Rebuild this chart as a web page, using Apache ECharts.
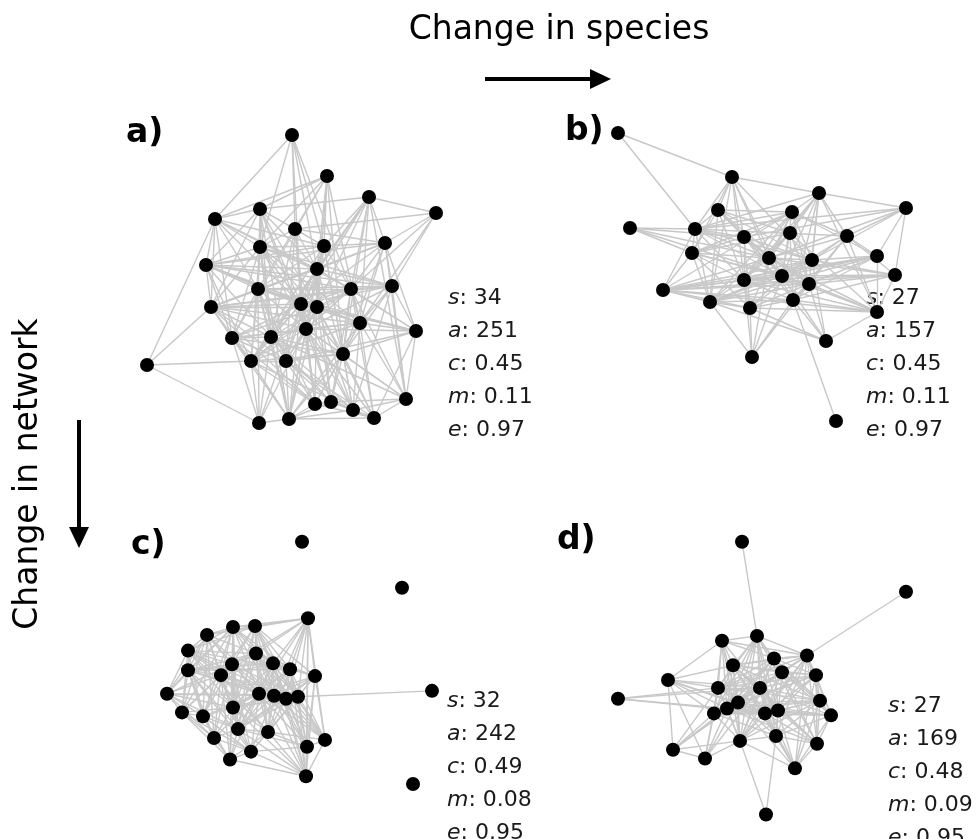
<!DOCTYPE html>
<html>
<head>
    <meta charset="utf-8">
    <title></title>
    <script src="https://cdn.jsdelivr.net/npm/echarts@6/dist/echarts.min.js"></script>
</head>
<body style="margin:0">
<div id="container" style="width:978px;height:839px"></div>
<script type="text/javascript">
    // node layout positions (panel units)
    var nodesA = [[162,15],[197,56],[239,77],[306,93],[130,89],[85,99],[165,109],[255,123],[194,126],[130,127],
        [76,145],[187,149],[262,166],[128,169],[221,169],[81,187],[171,184],[187,187],[230,203],[286,211],
        [176,209],[102,218],[141,217],[213,234],[17,245],[121,241],[156,241],[276,279],[185,284],[201,282],
        [223,290],[244,298],[159,299],[129,303]];
    var nodesB = [[18,13],[132,57],[219,73],[306,88],[118,90],[192,92],[30,108],[95,109],[190,113],[144,117],
        [247,116],[92,133],[169,138],[212,140],[277,136],[182,156],[295,155],[144,160],[209,164],[63,170],
        [110,182],[193,180],[150,188],[277,192],[226,221],[152,237],[236,301]];
    var nodesC = [[152,17],[252,64],[158,95],[83,104],[105,103],[57,112],[38,128],[106,131],[82,142],[123,141],
        [140,147],[38,148],[71,153],[165,154],[17,172],[109,172],[124,174],[136,177],[148,175],[282,169],
        [83,186],[32,191],[53,195],[88,208],[118,211],[64,217],[175,219],[157,226],[101,231],[80,239],
        [156,256],[263,264]];
    var nodesD = [[142,17],[306,68],[157,113],[122,118],[207,133],[174,136],[133,143],[182,150],[216,153],[68,158],
        [118,166],[160,166],[18,177],[220,179],[138,181],[127,187],[114,192],[165,192],[178,189],[231,194],
        [176,215],[140,220],[217,223],[73,229],[105,238],[195,248],[166,295]];

    // neighbours of each node (1-based, higher ids only)
    var adjA = [[6,7,9,10,12,15,17],[5,6,9,10,12,14,18,19,22,24],[4,5,8,9,12,15,17,19,21,23,24,26,28],[7,8,13,19,21],
        [6,7,9,10,11,12,14,16,17,18,21,23,27],[9,10,11,12,14,15,16,17,22,25],[8,9,10,12,17,21,23,27,29],
        [9,11,12,13,15,16,17,19,20,24,28],[10,11,12,14,15,17,18,21,24,26,31],[11,12,13,14,16,17,18,19,21,22,23,26,33],
        [12,13,14,15,16,17,18,19,22,23,26],[13,14,15,16,18,20,21,23,24,27,29,30,33],[14,15,16,17,19,20,21,24,28,31],
        [15,16,17,18,20,21,22,23,26,27,29,33,34],[16,17,18,19,20,21,23,24,26,28,30,32],[17,18,19,21,22,23,25,26,27,29],
        [19,20,21,22,23,24,26,27,29,30,31,33,34],[19,20,21,22,24,26,27,30,31,32,33],[20,21,22,24,26,28,29,31,32,33],
        [21,24,27,28,32],[22,23,24,26,27,28,29,30,31,32,33,34],[23,24,26,27,29,33,34],[24,26,27,28,30,31,33,34],
        [26,27,28,29,30,31,32,33],[26,34],[27,29,31,33,34],[29,30,31,32,33],[30,31,32],[30,32,33],[31,32,33],
        [32,33],[33],[34],[]];
    var adjB = [[2,8],[3,5,8,10,12,13,14,16,18,21],[4,6,8,9,11,13,14,16,18,19,22,24],[8,10,11,13,14,15,17],
        [6,8,9,10,12,13,14,16,18,19,21],[8,10,11,12,13,14,15,16,18,19,20,21,23],[8,10,12,13,16],
        [10,11,12,13,14,16,18,20,21],[12,13,16,18,19,21,22,24],[12,13,14,16,18,19,22,23],[13,14,15,16,17,19,22,24],
        [13,16,18,19,20,21,23],[14,16,17,18,19,20,22,24,26],[15,16,17,18,20,21,23,25],[16,18,19,20,21,22,24],
        [17,18,20,21,23,24,25,26],[18,19,20,22,24],[19,20,21,22,23,24,26],[20,21,22,23,24,25,26],[21,22,23,24],
        [22,23,25,26],[23,24,25,26,27],[24,25,26],[25],[],[],[]];
    var adjC = [[],[],[4,5,6,8,9,10,11,14,16,17,18,19,27,28,31],[5,6,7,8,9,10,11,12,13,15,16,17,21,22,23,24],
        [6,7,8,9,10,11,13,14,16,17,18,19,21,24,25],[7,8,9,12,13,15,16,17,21,22,23,24,26],
        [8,9,11,12,13,15,16,18,21,22,23,25],[9,10,11,12,13,14,16,17,18,19,21,24,25,27,28],
        [10,12,13,15,16,17,19,21,22,23,24,26,29,30],[11,12,13,14,16,17,18,19,21,24,25,27,28,31],
        [12,14,16,18,19,21,24,25,27,28,31],[13,15,16,17,21,22,23,24,26,29],[15,16,18,19,21,22,23,24,25,26,30],
        [16,17,18,19,24,25,27,28,31],[16,17,21,22,23,24,26],[17,18,19,21,23,24,25,26,27,28,29,30,31],
        [18,19,21,24,25,27,28,29,31],[19,21,24,25,27,28,31],[20,21,24,25,27,28,29,31],[],
        [22,23,24,25,26,29,30,31],[23,26,29,30],[24,26,29,30],[25,26,28,29,30,31],[27,28,29,30,31],[29,30],
        [28,31],[29,31],[30,31],[31],[],[]];
    var adjD = [[3],[5],[4,5,6,7,8,11,12,15,16,17,18,19,21,22,23],[5,6,7,10,11,12,15,16,17,22],
        [6,7,8,9,11,12,14,15,16,17,18,19,20,21,22,23,26],[7,8,9,11,12,14,15,16,17,19,20,22],
        [8,9,10,11,12,14,15,16,17,18,19,21,22,23,26],[9,11,12,14,15,16,17,18,20,21,22,23],
        [11,12,14,15,17,18,19,20,23,26],[11,12,15,16,17,18,24,25],[12,13,14,15,16,17,18,19,22,24,25],
        [13,14,15,16,17,18,19,20,21,22,23,24,25,26],[16,18],[15,16,17,18,19,20,21,22,23,26],
        [16,17,18,19,20,21,22,24,25,26],[17,18,19,20,22,23,24,25],[18,19,20,21,22,24,25],[19,20,21,22,23,26],
        [20,21,22,23,26],[21,23,26],[22,23,26,27],[24,25,26,27],[26],[25],[],[],[]];

    var statLetters = ['s', 'a', 'c', 'm', 'e'];
    var statsA = ['34', '251', '0.45', '0.11', '0.97'];
    var statsB = ['27', '157', '0.45', '0.11', '0.97'];
    var statsC = ['32', '242', '0.49', '0.08', '0.95'];
    var statsD = ['27', '169', '0.48', '0.09', '0.95'];
    var panelNames = ['a)', 'b)', 'c)', 'd)'];

    var panels = [
        {nodes: nodesA, adj: adjA, stats: statsA, left: 130, top: 120, tx: 448, ty: 298, lx: 126, ly: 133},
        {nodes: nodesB, adj: adjB, stats: statsB, left: 600, top: 120, tx: 866, ty: 298, lx: 565, ly: 131},
        {nodes: nodesC, adj: adjC, stats: statsC, left: 150, top: 525, tx: 447, ty: 701, lx: 131, ly: 545},
        {nodes: nodesD, adj: adjD, stats: statsD, left: 600, top: 525, tx: 888, ty: 706, lx: 557, ly: 540}
    ];

    var font = 'DejaVu Sans';
    var grids = [], xAxes = [], yAxes = [], series = [], graphics = [];

    panels.forEach(function (p, k) {
        grids.push({left: p.left, top: p.top, width: 320, height: 320});
        xAxes.push({gridIndex: k, type: 'value', min: 0, max: 320, show: false});
        yAxes.push({gridIndex: k, type: 'value', min: 0, max: 320, inverse: true, show: false});
        var links = [];
        p.adj.forEach(function (row, i) {
            row.forEach(function (j) {
                links.push({source: i, target: j - 1});
            });
        });
        series.push({
            type: 'graph',
            coordinateSystem: 'cartesian2d',
            xAxisIndex: k,
            yAxisIndex: k,
            layout: 'none',
            symbol: 'circle',
            symbolSize: 14,
            itemStyle: {color: '#000'},
            lineStyle: {color: '#c8c8c8', width: 1.4, opacity: 1, curveness: 0},
            emphasis: {disabled: true},
            silent: true,
            data: p.nodes,
            links: links
        });
        graphics.push({
            type: 'text', x: p.lx, y: p.ly,
            style: {text: panelNames[k], font: 'bold 33px "' + font + '"', fill: '#000', verticalAlign: 'middle'}
        });
        statLetters.forEach(function (l, i) {
            graphics.push({
                type: 'text', x: p.tx, y: p.ty + i * 33,
                style: {
                    text: '{i|' + l + '}: ' + p.stats[i],
                    font: '22px "' + font + '"', fill: '#1a1a1a', verticalAlign: 'middle',
                    rich: {i: {fontStyle: 'italic', fontSize: 22, fontFamily: font, fill: '#1a1a1a'}}
                }
            });
        });
    });

    // axis-direction annotations
    graphics.push({
        type: 'text', x: 559, y: 30,
        style: {text: 'Change in species', font: '33px "' + font + '"', fill: '#000', align: 'center', verticalAlign: 'middle'}
    });
    graphics.push({type: 'line', shape: {x1: 485, y1: 79, x2: 593, y2: 79}, style: {stroke: '#000', lineWidth: 4}});
    graphics.push({type: 'polygon', shape: {points: [[590, 69], [611, 79], [590, 89]]}, style: {fill: '#000'}});
    graphics.push({
        type: 'text', x: 28, y: 474, rotation: Math.PI / 2,
        style: {text: 'Change in network', font: '33px "' + font + '"', fill: '#000', align: 'center', verticalAlign: 'middle'}
    });
    graphics.push({type: 'line', shape: {x1: 79, y1: 420, x2: 79, y2: 530}, style: {stroke: '#000', lineWidth: 4}});
    graphics.push({type: 'polygon', shape: {points: [[69, 527], [79, 548], [89, 527]]}, style: {fill: '#000'}});

    var myChart = echarts.init(document.getElementById('container'));
    var option = {
        animation: false,
        backgroundColor: '#fff',
        grid: grids,
        xAxis: xAxes,
        yAxis: yAxes,
        series: series,
        graphic: graphics
    };
    myChart.setOption(option);
</script>
</body>
</html>
